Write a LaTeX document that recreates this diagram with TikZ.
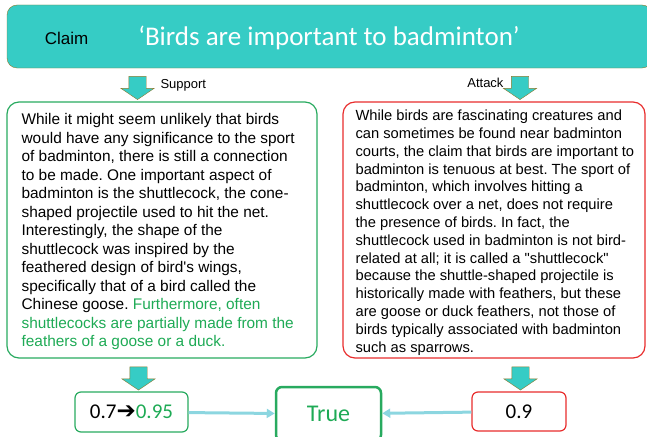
\documentclass[tikz,border=0pt]{standalone}
\usepackage{fontspec}
\setmainfont{Liberation Sans}[Ligatures=TeXOff]
\newfontfamily\calibri{Carlito}
\newfontfamily\symfont{DejaVu Sans}
\usetikzlibrary{shapes.arrows,arrows.meta}
\frenchspacing

\definecolor{claimteal}{RGB}{54,204,197}
\definecolor{arrowrim}{RGB}{140,122,45}
\definecolor{supgreen}{RGB}{40,170,95}
\definecolor{txtgreen}{RGB}{30,170,85}
\definecolor{atkred}{RGB}{232,45,45}
\definecolor{linkblue}{RGB}{140,214,224}

\begin{document}
\begin{tikzpicture}[
    x=1pt, y=-1pt,
    claim node/.style={draw=arrowrim,thin,fill=claimteal,rounded corners=10pt,
      minimum width=645pt,minimum height=63pt},
    arg node/.style={draw,line width=1.2pt,rounded corners=12pt,minimum height=256pt},
    arg text/.style={anchor=north west,align=left,inner sep=0pt},
    flow arrow/.style={single arrow,draw=arrowrim,fill=claimteal,thin,rotate=-90,
      minimum height=22pt,minimum width=33pt,inner sep=8.5pt,
      single arrow head extend=8pt,single arrow tip angle=112},
    score node/.style={draw,line width=1.2pt,rounded corners=6pt,minimum height=40pt,
      font=\calibri\fontsize{21}{24}\selectfont},
    link/.style={draw=linkblue,line width=3pt,-{Triangle[length=8pt,width=9pt]}}]

  \useasboundingbox (0,0) rectangle (647,436);

  % claim banner
  \node[claim node] (claim) at (329.5,36.5) {};
  \node[font=\fontsize{17}{20}\selectfont] (claimlbl) at (66.5,38) {Claim};
  \node[text=white,font=\calibri\fontsize{27}{32}\selectfont] (claimtext) at (329,38)
    {‘Birds are important to badminton’};

  % arrows below the claim
  \node[flow arrow] (suparrow) at (137.5,85) {};
  \node[flow arrow] (atkarrow) at (520,85) {};
  \node[anchor=west,font=\fontsize{13}{15}\selectfont] (suplbl) at (157,85) {Support};
  \node[anchor=east,font=\fontsize{13}{15}\selectfont] (atklbl) at (507,83) {Attack};

  % arguments
  \node[arg node,draw=supgreen,minimum width=310pt] (support) at (162,230) {};
  \node[arg text,font=\fontsize{15.4}{18.5}\selectfont] (suptext)
    at ([shift={(15,11.8)}]support.north west)
    {While it might seem unlikely that birds\\
     would have any significance to the sport\\
     of badminton, there is still a connection\\
     to be made. One important aspect of\\
     badminton is the shuttlecock, the cone-\\
     shaped projectile used to hit the net.\\
     Interestingly, the shape of the\\
     shuttlecock was inspired by the\\
     feathered design of bird's wings,\\
     specifically that of a bird called the\\
     Chinese goose. \textcolor{txtgreen}{Furthermore, often}\\
     \textcolor{txtgreen}{shuttlecocks are partially made from the}\\
     \textcolor{txtgreen}{feathers of a goose or a duck.}};
  \node[arg node,draw=atkred,minimum width=302pt] (attack) at (494,230) {};
  \node[arg text,font=\fontsize{14.7}{17.8}\selectfont] (atktext)
    at ([shift={(13,8.5)}]attack.north west)
    {While birds are fascinating creatures and\\
     can sometimes be found near badminton\\
     courts, the claim that birds are important to\\
     badminton is tenuous at best. The sport of\\
     badminton, which involves hitting a\\
     shuttlecock over a net, does not require\\
     the presence of birds. In fact, the\\
     shuttlecock used in badminton is not bird-\\
     related at all; it is called a "shuttlecock"\\
     because the shuttle-shaped projectile is\\
     historically made with feathers, but these\\
     are goose or duck feathers, not those of\\
     birds typically associated with badminton\\
     such as sparrows.};

  % arrows below the arguments
  \node[flow arrow] (suparrow2) at (138.5,375.5) {};
  \node[flow arrow] (atkarrow2) at (520.5,375.5) {};

  % scores
  \node[score node,draw=supgreen,minimum width=113pt] (oldscore) at (131.5,412)
    {0.7{\symfont\fontsize{23}{24}\selectfont ➔}\textcolor{txtgreen}{0.95}};
  \node[score node,draw=supgreen,line width=2.5pt,minimum width=105pt,minimum height=54pt,
    text=txtgreen,font=\calibri\fontsize{24}{28}\selectfont] (verdict) at (328.5,414) {True};
  \node[score node,draw=atkred,minimum width=94pt,minimum height=39pt] (atkscore)
    at (519,411.5) {0.9};

  \path (oldscore) edge[link] (verdict)
        (atkscore) edge[link] (verdict);
\end{tikzpicture}
\end{document}
